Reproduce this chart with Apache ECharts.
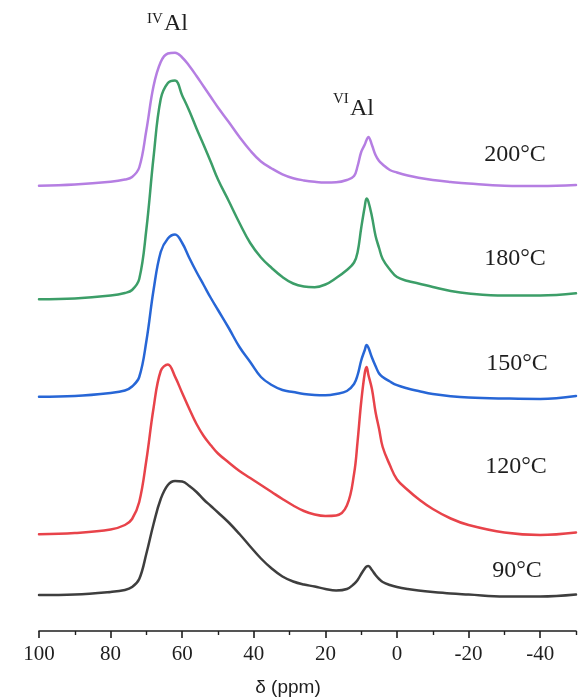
<!DOCTYPE html>
<html>
<head>
<meta charset="utf-8">
<script src="https://cdn.jsdelivr.net/npm/echarts@6/dist/echarts.min.js"></script>
<style>
  html, body { margin: 0; padding: 0; background: #fff; }
  #chart { width: 581px; height: 699px; }
</style>
</head>
<body>
<div id="chart"></div>
<script>
// 27Al MAS NMR spectra, stacked by synthesis temperature (offset intensity, a.u.)
const ppm = [100, 90, 80, 76, 74, 72, 70, 68, 66, 64,
             62, 60, 58, 56, 54, 52, 50, 47, 44, 41,
             38, 35, 32, 29, 26, 23, 20, 17, 14, 12,
             11, 10, 9, 8.5, 8, 7, 6, 5, 4, 2,
             0, -3, -6, -10, -15, -20, -30, -40, -50];

const s200 = [445.3, 446.5, 449.3, 451.5, 454, 463.5, 501, 545, 569, 577.5,
              578.3, 573.5, 565, 555, 544.5, 534, 523.5, 509, 494, 480.5,
              469.5, 462.5, 456.7, 452.8, 450.6, 449.2, 448.5, 448.7, 451, 455,
              465, 479, 486.5, 491, 494, 486, 476, 470, 466.5, 461,
              458.5, 455.5, 453.3, 451, 449, 447.4, 445.3, 445, 446];
const s180 = [331.7, 332.5, 335.5, 338, 341, 352, 402, 474, 532, 548,
              550.5, 535.5, 520, 502.5, 486, 469, 451.5, 430, 408, 388,
              373.5, 363, 354, 347.5, 344.5, 343.8, 346.5, 353, 361, 368.5,
              379, 403, 424.5, 432.5, 429.5, 414.5, 395.3, 383, 372, 361.5,
              354, 350, 347.5, 344, 340, 337.5, 335.5, 335.5, 337.7];
const s150 = [234.3, 235, 238, 240.5, 244.5, 254, 290, 341, 379, 392.5,
              396.5, 388, 373, 359, 346, 333, 321, 303, 284, 269,
              254, 246, 241, 239, 237, 236, 235.7, 237, 240, 247,
              256, 270.5, 281, 286, 283.5, 273.5, 265, 257.5, 254, 249.5,
              245.8, 242.5, 240, 237, 234.8, 233.5, 232.5, 232, 235];
const s120 = [96.7, 98, 101.5, 106, 112, 129, 171, 223, 260, 266.5,
              254.4, 238, 222, 207, 195, 185.7, 177.5, 168.5, 160, 153,
              146, 139, 132, 125.5, 120, 116.5, 115, 115.5, 125.5, 157,
              190, 229, 258, 264, 256.3, 242, 219, 202, 184, 166,
              151.5, 141, 132, 122, 112.5, 106, 98.5, 96, 98.5];
const s90  = [36, 36.5, 39, 41, 44, 52, 77.5, 107, 132, 146,
              150, 149.5, 145, 139, 131.5, 125, 118.5, 108.5, 97, 84.5,
              72.5, 62.5, 54.5, 49.5, 46.5, 44.5, 42, 40.5, 42, 47,
              51, 57, 62.5, 64.5, 65, 61, 56, 52, 49, 46,
              44, 42, 40.5, 39, 37.5, 36.5, 34.5, 34.5, 36.5];

const spectra = [s200, s180, s150, s120, s90];
const tempLabels = ['200°C', '180°C', '150°C', '120°C', '90°C'];
const lineColors = ['#b57ee2', '#3c9e68', '#2766d6', '#e8434a', '#3e3e3e'];

const majorTicks = [100, 80, 60, 40, 20, 0, -20, -40];
const minorTicks = [90, 70, 50, 30, 10, -10, -30, -50];

const chart = echarts.init(document.getElementById('chart'), null, { renderer: 'canvas' });

const serif = '"Liberation Serif", "Times New Roman", serif';
const ink = '#1e1e1e';

// anchor positions (px) for the temperature captions
const tempPos = [[515, 155], [515, 259], [517, 364], [516, 467], [517, 571]];

const graphics = [
  { type: 'text', left: 147, top: 12, style: { text: 'IV', font: '15px ' + serif, fill: ink } },
  { type: 'text', left: 164, top: 12, style: { text: 'Al', font: '24px ' + serif, fill: ink } },
  { type: 'text', left: 333, top: 92, style: { text: 'VI', font: '15px ' + serif, fill: ink } },
  { type: 'text', left: 350, top: 97, style: { text: 'Al', font: '24px ' + serif, fill: ink } },
  { type: 'text', x: 288, y: 688, style: { text: 'δ (ppm)', font: '19px "Liberation Sans", Arial, sans-serif',
      fill: ink, textAlign: 'center', textVerticalAlign: 'middle' } }
];
tempLabels.forEach((t, i) => {
  graphics.push({ type: 'text', x: tempPos[i][0], y: tempPos[i][1],
    style: { text: t, font: '24px ' + serif, fill: ink, textAlign: 'center', textVerticalAlign: 'middle' } });
});

chart.setOption({
  animation: false,
  backgroundColor: '#fff',
  grid: { left: 39, right: 5, top: 31, bottom: 68 },
  xAxis: [
    {
      type: 'value', min: -50, max: 100, inverse: true, position: 'bottom',
      axisLine: { show: true, lineStyle: { color: ink, width: 1.6 } },
      axisTick: { show: true, inside: false, length: 7, lineStyle: { color: ink, width: 1.6 },
                  customValues: majorTicks },
      axisLabel: { show: true, margin: 13, customValues: majorTicks,
                   fontFamily: serif, fontSize: 21, color: ink },
      splitLine: { show: false }
    },
    {
      type: 'value', min: -50, max: 100, inverse: true, position: 'bottom',
      axisLine: { show: false },
      axisTick: { show: true, inside: false, length: 4, lineStyle: { color: ink, width: 1.4 },
                  customValues: minorTicks },
      axisLabel: { show: false },
      splitLine: { show: false }
    }
  ],
  yAxis: { type: 'value', min: 0, max: 600, show: false },
  series: spectra.map((vals, i) => ({
    name: tempLabels[i],
    type: 'line',
    xAxisIndex: 0,
    data: ppm.map((p, k) => [p, vals[k]]),
    smooth: 0.4,
    showSymbol: false,
    lineStyle: { color: lineColors[i], width: 2.5, join: 'round', cap: 'round' },
    z: 2 + i
  })),
  graphic: graphics
});
</script>
</body>
</html>
